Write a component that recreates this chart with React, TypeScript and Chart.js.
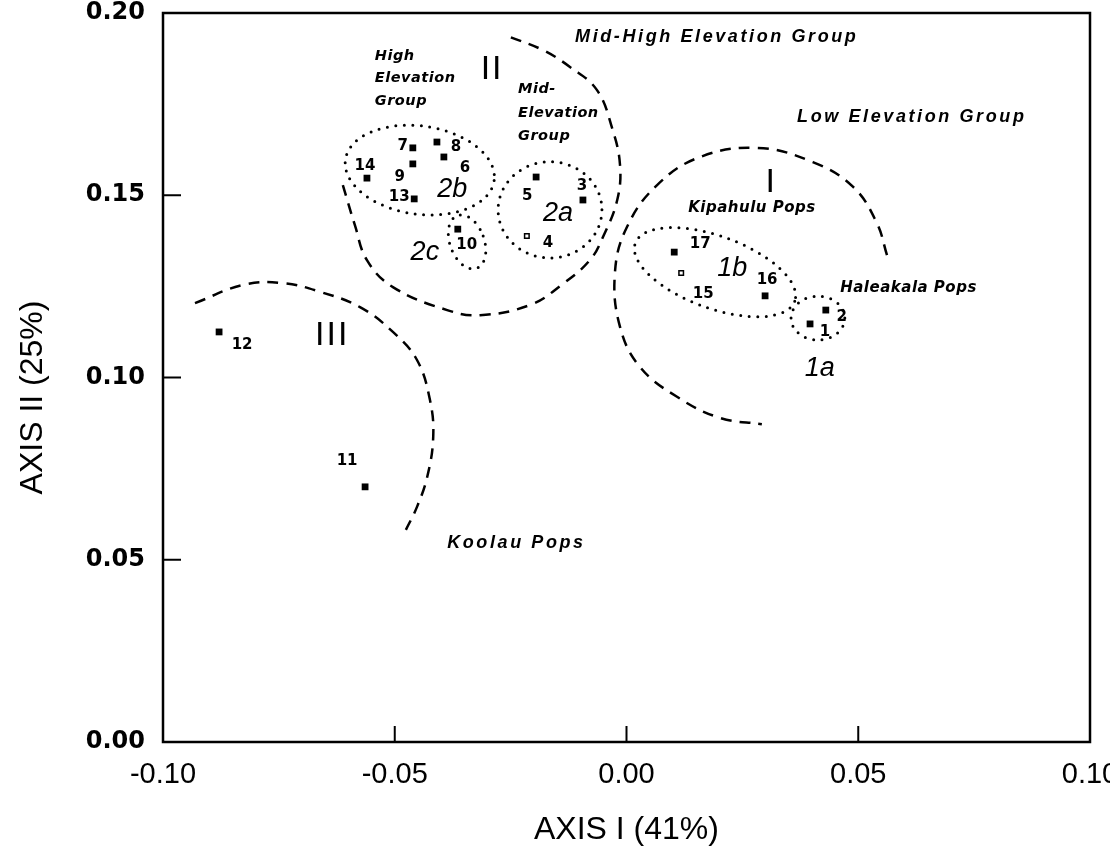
import React, { useEffect, useRef } from "react";
import { Chart, registerables } from "chart.js";

Chart.register(...registerables);

// ---- population scores ----
const popIds = ["1", "2", "3", "4", "5", "6", "7", "8", "9", "10", "11", "12", "13", "14", "15", "16", "17"];
const axisI = [0.0396, 0.043, -0.0094, -0.0215, -0.0195, -0.0394, -0.0461, -0.0409, -0.0461, -0.0364, -0.0564, -0.0879, -0.0458, -0.056, 0.0118, 0.0299, 0.0103];
const axisII = [0.1147, 0.1185, 0.1487, 0.1388, 0.155, 0.1605, 0.163, 0.1646, 0.1586, 0.1407, 0.07, 0.1125, 0.149, 0.1547, 0.1287, 0.1224, 0.1344];
const hollowPops = ["4", "15"];

// ---- axes ----
const xTicks = [-0.1, -0.05, 0, 0.05, 0.1];
const yTicks = [0, 0.05, 0.1, 0.15, 0.2];
const xTitle = "AXIS I (41%)";
const yTitle = "AXIS II (25%)";

// ---- dashed group boundaries ----
const arcIx = [0.0562, 0.054, 0.0489, 0.0402, 0.0282, 0.0159, 0.0066, 0.0001, -0.0025, -0.0014, 0.0029, 0.0109, 0.0202, 0.0292];
const arcIy = [0.1336, 0.1424, 0.1523, 0.1591, 0.163, 0.1605, 0.1528, 0.1413, 0.1287, 0.1139, 0.1029, 0.0947, 0.0889, 0.0872];
const arcIIx = [-0.0612, -0.0586, -0.056, -0.0504, -0.0387, -0.0316, -0.0208, -0.0137, -0.0079, -0.0051, -0.002, -0.0014, -0.0031, -0.0064, -0.0122, -0.018, -0.0251];
const arcIIy = [0.1528, 0.1418, 0.1322, 0.1248, 0.1185, 0.1171, 0.1199, 0.1257, 0.1322, 0.1385, 0.1487, 0.1583, 0.1684, 0.1789, 0.1852, 0.1898, 0.1934];
const arcIIIx = [-0.0931, -0.0827, -0.0741, -0.0661, -0.0575, -0.0504, -0.0452, -0.0424, -0.0417, -0.043, -0.0452, -0.0476];
const arcIIIy = [0.1204, 0.1254, 0.1259, 0.1235, 0.1193, 0.1125, 0.1048, 0.0938, 0.0837, 0.0727, 0.0645, 0.0582];

// ---- dotted sub-group ellipses ----
const ellipseCx = [0.0413, 0.0191, -0.0165, -0.0446, -0.0344];
const ellipseCy = [0.1163, 0.1289, 0.146, 0.1569, 0.1372];
const ellipseRx = [0.0058, 0.0183, 0.0112, 0.0162, 0.0037];
const ellipseRy = [0.006, 0.0099, 0.0132, 0.0121, 0.0077];
const ellipseTilt = [0, 20, 0, 8, -20];

// ---- text notes ----
const noteText = ["High", "Elevation", "Group", "Mid-", "Elevation", "Group", "Mid-High Elevation Group", "Low Elevation Group", "Kipahulu Pops", "Haleakala Pops", "Koolau Pops", "2a", "2b", "2c", "1a", "1b", "I", "II", "III"];
const noteX = [-0.0543, -0.0543, -0.0543, -0.0234, -0.0234, -0.0234, -0.0111, 0.0368, 0.0133, 0.0461, -0.0387, -0.0148, -0.0376, -0.0435, 0.0417, 0.0228, 0.0312, -0.029, -0.0635];
const noteY = [0.1882, 0.1822, 0.1758, 0.1791, 0.1726, 0.1663, 0.1934, 0.1715, 0.1465, 0.1246, 0.0546, 0.1451, 0.1517, 0.1342, 0.1026, 0.13, 0.1536, 0.1844, 0.1114];
const noteKind = ["bold", "bold", "bold", "bold", "bold", "bold", "group", "group", "pops", "pops", "group", "region", "region", "region", "region", "region", "roman", "roman", "roman"];

// pixel offsets of the number labels from their squares
const labelDx = [15, 16, -1, 21, -9, 21, -10, 19, -13, 9, -18, 23, -15, -2, 22, 2, 26];
const labelDy = [8, 7, -14, 7, 19, 11, -2, 5, 13, 16, -26, 13, -2, -12, 21, -16, -8];

const SANS = '"Liberation Sans", Arial, sans-serif';
const DEJA = '"DejaVu Sans", sans-serif';

const noteStyles: Record<string, { font: string; align: CanvasTextAlign; spacing: string }> = {
  bold: { font: `italic bold 14.5px ${DEJA}`, align: "left", spacing: "0.5px" },
  group: { font: `italic bold 18px ${SANS}`, align: "left", spacing: "2.6px" },
  pops: { font: `italic bold 15px ${DEJA}`, align: "left", spacing: "0.5px" },
  region: { font: `italic 27px ${SANS}`, align: "center", spacing: "0px" },
  roman: { font: `34px ${SANS}`, align: "center", spacing: "2px" },
};

const overlay = {
  id: "overlay",
  afterDatasetsDraw(chart: any) {
    const { ctx, chartArea: a } = chart;
    const x = chart.scales.x;
    const y = chart.scales.y;
    ctx.save();
    ctx.fillStyle = "#000";
    ctx.strokeStyle = "#000";

    // dotted ellipses
    ctx.lineWidth = 3;
    ctx.lineCap = "round";
    ctx.setLineDash([0, 8.5]);
    for (let i = 0; i < ellipseCx.length; i++) {
      const cx = x.getPixelForValue(ellipseCx[i]);
      const cy = y.getPixelForValue(ellipseCy[i]);
      const rx = Math.abs(x.getPixelForValue(ellipseCx[i] + ellipseRx[i]) - cx);
      const ry = Math.abs(y.getPixelForValue(ellipseCy[i] + ellipseRy[i]) - cy);
      ctx.beginPath();
      ctx.ellipse(cx, cy, rx, ry, (ellipseTilt[i] * Math.PI) / 180, 0, Math.PI * 2);
      ctx.stroke();
    }
    ctx.setLineDash([]);
    ctx.lineCap = "butt";

    // number labels
    ctx.font = `bold 15px ${DEJA}`;
    ctx.textAlign = "center";
    ctx.textBaseline = "middle";
    for (let i = 0; i < popIds.length; i++) {
      const px = x.getPixelForValue(axisI[i]) + labelDx[i];
      const py = y.getPixelForValue(axisII[i]) + labelDy[i];
      ctx.fillText(popIds[i], px, py);
    }

    // notes
    for (let i = 0; i < noteText.length; i++) {
      const st = noteStyles[noteKind[i]];
      ctx.font = st.font;
      ctx.textAlign = st.align;
      (ctx as any).letterSpacing = st.spacing;
      ctx.fillText(noteText[i], x.getPixelForValue(noteX[i]), y.getPixelForValue(noteY[i]));
    }
    (ctx as any).letterSpacing = "0px";

    // frame
    ctx.lineWidth = 2.5;
    ctx.strokeRect(a.left, a.top, a.right - a.left, a.bottom - a.top);

    // inner ticks
    ctx.lineWidth = 2;
    for (const v of yTicks) {
      const py = y.getPixelForValue(v);
      ctx.beginPath();
      ctx.moveTo(a.left, py);
      ctx.lineTo(a.left + 18, py);
      ctx.stroke();
    }
    for (const v of xTicks) {
      const px = x.getPixelForValue(v);
      ctx.beginPath();
      ctx.moveTo(px, a.bottom);
      ctx.lineTo(px, a.bottom - 16);
      ctx.stroke();
    }

    // axis titles
    ctx.font = `32px ${SANS}`;
    ctx.textAlign = "center";
    ctx.textBaseline = "middle";
    ctx.fillText(xTitle, (a.left + a.right) / 2, 830);
    ctx.save();
    ctx.translate(33, (a.top + a.bottom) / 2 + 20);
    ctx.rotate(-Math.PI / 2);
    ctx.fillText(yTitle, 0, 0);
    ctx.restore();

    ctx.restore();
  },
};

function arcData(xs: number[], ys: number[]) {
  return xs.map((v, i) => ({ x: v, y: ys[i] }));
}

export default function App() {
  const ref = useRef<HTMLCanvasElement | null>(null);

  useEffect(() => {
    document.body.style.margin = "0";
    const canvas = ref.current;
    if (!canvas) return;

    const arcStyle = {
      showLine: true,
      pointRadius: 0,
      borderColor: "#000",
      borderWidth: 2.5,
      borderDash: [11, 8],
      tension: 0.4,
      fill: false,
    };

    const chart = new Chart(canvas, {
      type: "scatter",
      data: {
        datasets: [
          {
            label: "Populations",
            data: popIds.map((_, i) => ({ x: axisI[i], y: axisII[i] })),
            pointStyle: "rect",
            pointRadius: popIds.map((id) => (hollowPops.includes(id) ? 3.2 : 4.8)),
            pointBackgroundColor: popIds.map((id) => (hollowPops.includes(id) ? "#fff" : "#000")),
            pointBorderColor: "#000",
            pointBorderWidth: popIds.map((id) => (hollowPops.includes(id) ? 1.5 : 0)),
          } as any,
          { label: "I", data: arcData(arcIx, arcIy), ...arcStyle } as any,
          { label: "II", data: arcData(arcIIx, arcIIy), ...arcStyle } as any,
          { label: "III", data: arcData(arcIIIx, arcIIIy), ...arcStyle } as any,
        ],
      },
      options: {
        responsive: false,
        animation: false,
        events: [],
        layout: { padding: { top: 13, right: 20, left: 0, bottom: 0 } },
        plugins: { legend: { display: false }, tooltip: { enabled: false }, title: { display: false } },
        scales: {
          x: {
            type: "linear",
            min: -0.1,
            max: 0.1,
            afterBuildTicks: (s: any) => {
              s.ticks = xTicks.map((v) => ({ value: v }));
            },
            afterFit: (s: any) => {
              s.height = 113;
              s.paddingLeft = 0;
              s.paddingRight = 0;
            },
            grid: { display: false, drawTicks: false },
            border: { display: false },
            ticks: {
              color: "#000",
              padding: 16,
              maxRotation: 0,
              autoSkip: false,
              font: { family: SANS, size: 29 },
              callback: (v: any) => Number(v).toFixed(2),
            },
          },
          y: {
            type: "linear",
            min: 0,
            max: 0.2,
            afterBuildTicks: (s: any) => {
              s.ticks = yTicks.map((v) => ({ value: v }));
            },
            afterFit: (s: any) => {
              s.width = 163;
              s.paddingTop = 0;
              s.paddingBottom = 0;
            },
            grid: { display: false, drawTicks: false },
            border: { display: false },
            ticks: {
              color: "#000",
              padding: 18,
              autoSkip: false,
              font: { family: DEJA, size: 24, weight: "bold" },
              callback: (v: any) => Number(v).toFixed(2),
            },
          },
        },
      } as any,
      plugins: [overlay],
    });

    return () => chart.destroy();
  }, []);

  return (
    <div style={{ width: 1110, height: 855, background: "#fff" }}>
      <canvas ref={ref} width={1110} height={855} style={{ display: "block" }} />
    </div>
  );
}
